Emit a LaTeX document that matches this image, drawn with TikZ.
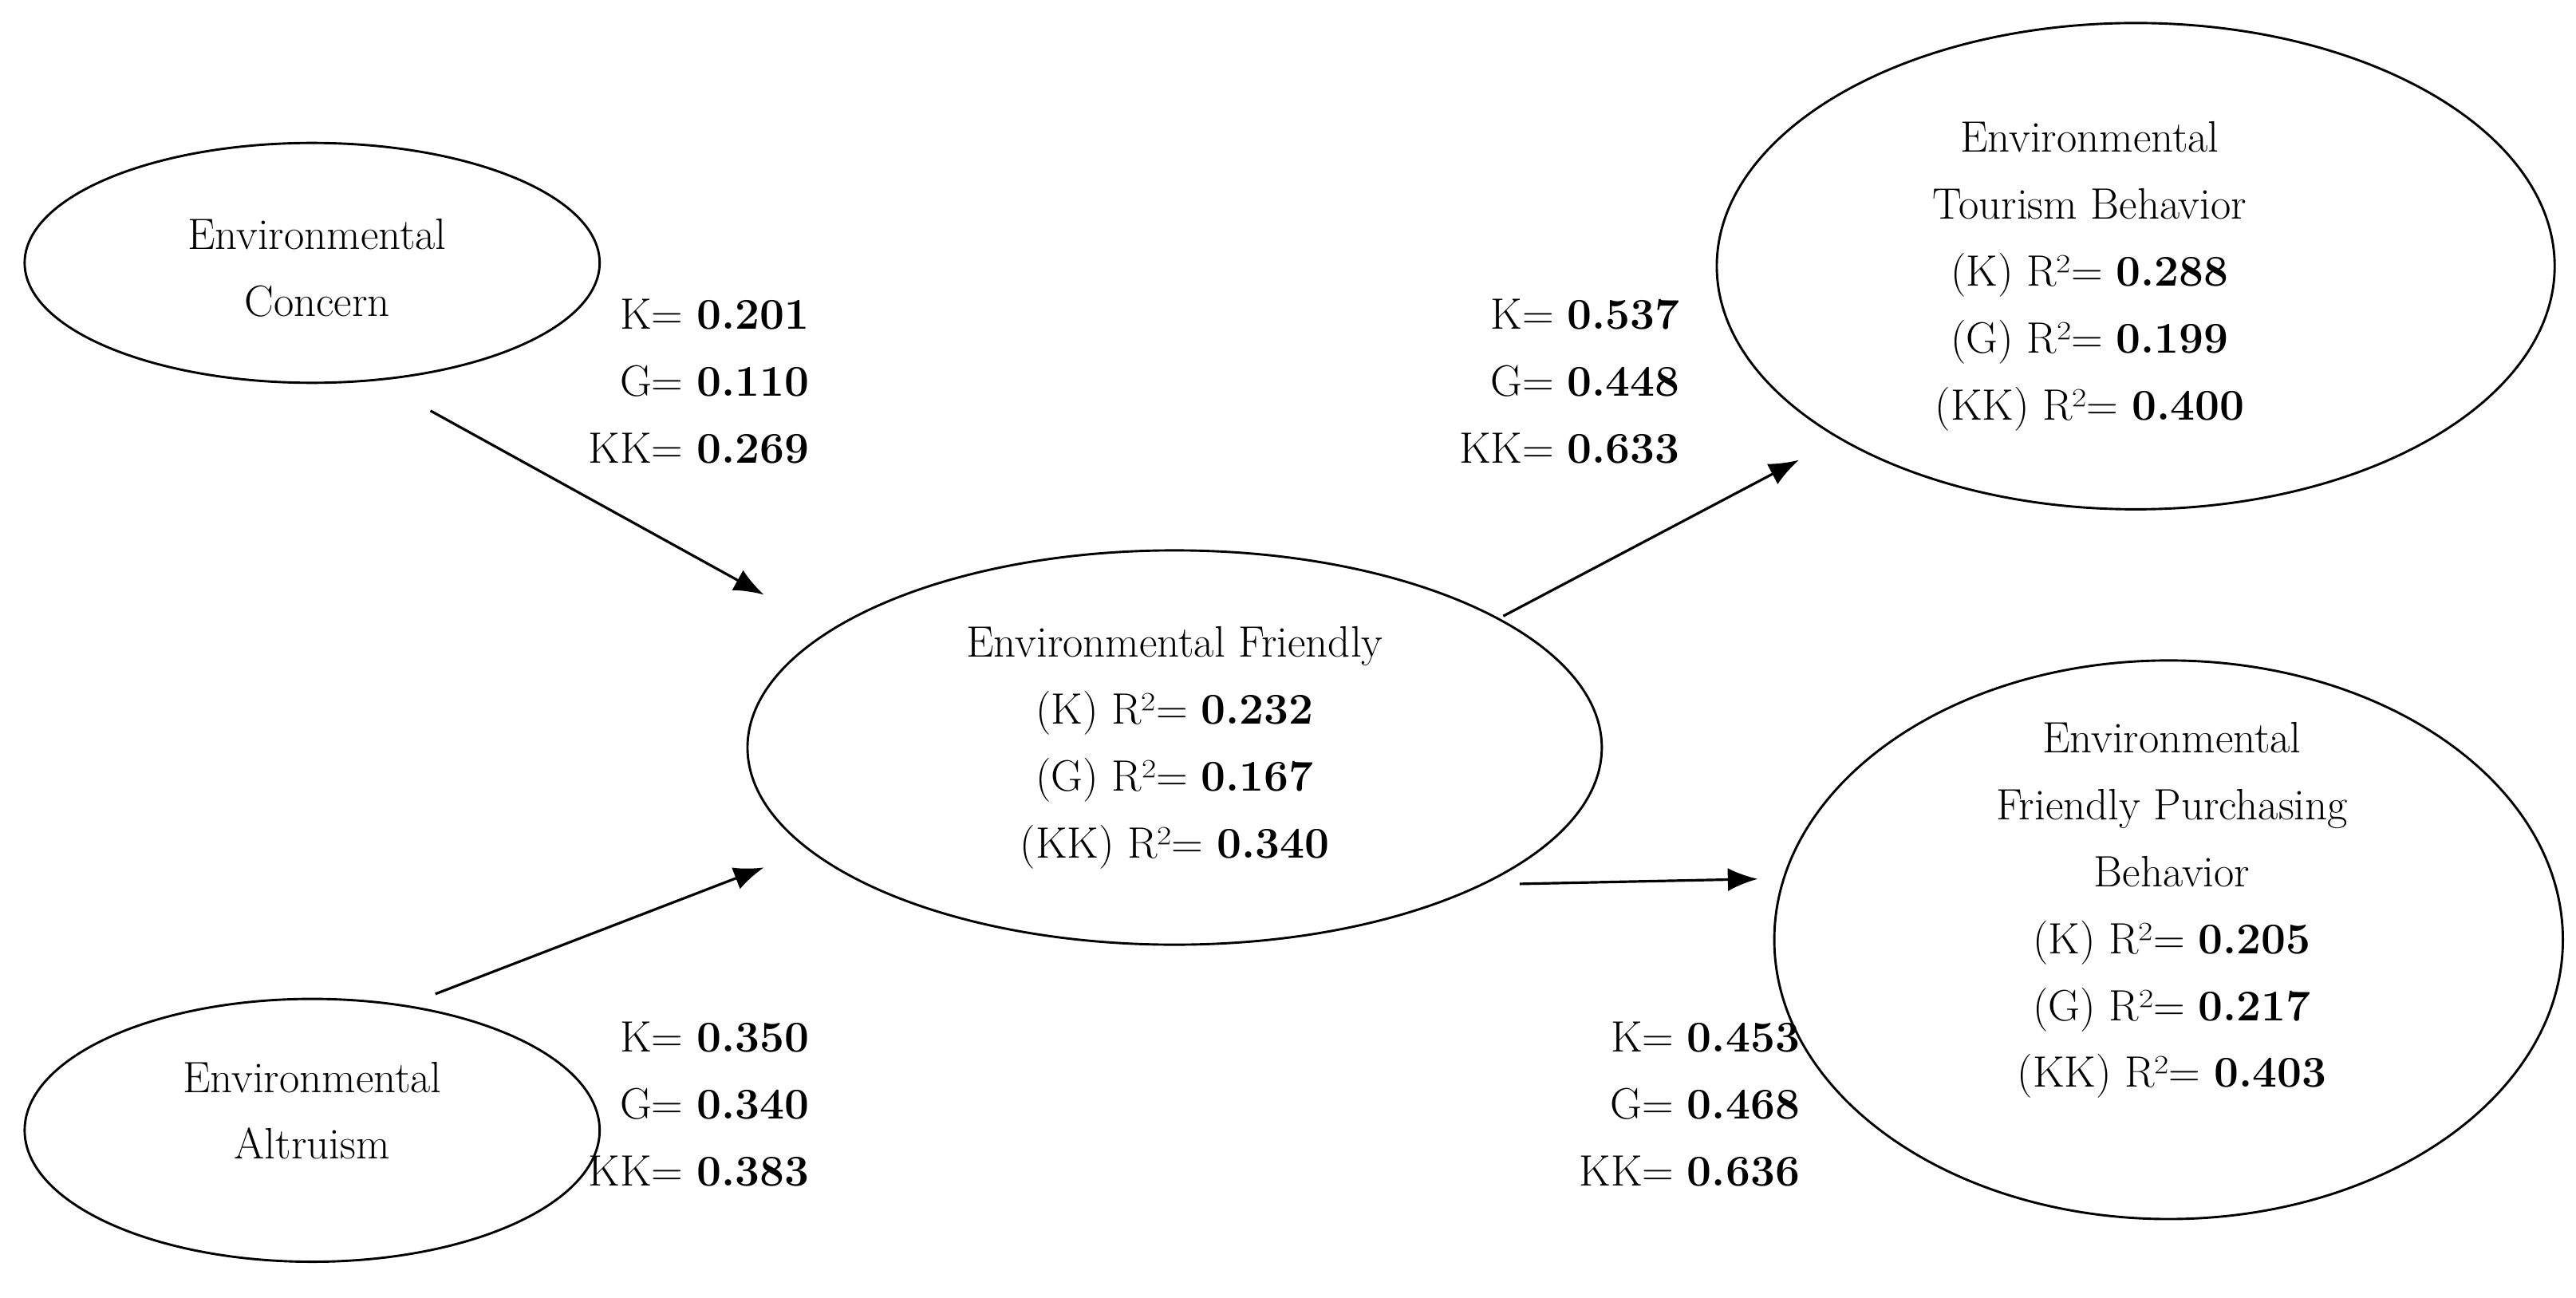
\documentclass[tikz,border=0pt]{standalone}
\usetikzlibrary{arrows.meta}
\begin{document}
\begin{tikzpicture}[x=0.05cm,y=-0.05cm,
  txt/.style={align=center,font=\fontsize{38}{58}\selectfont},
  lab/.style={align=right,font=\fontsize{38}{58}\selectfont},
  arr/.style={line width=2.2pt,-{Latex[length=26pt,width=20pt]}}]
\useasboundingbox (0,0) rectangle (1568,790);
\draw[line width=2pt] (190,160) ellipse [x radius=175, y radius=73];
\draw[line width=2pt] (190,688) ellipse [x radius=175, y radius=80];
\draw[line width=2pt] (715,455) ellipse [x radius=260, y radius=120];
\draw[line width=2pt] (1300,162) ellipse [x radius=255, y radius=148];
\draw[line width=2pt] (1320,572) ellipse [x radius=240, y radius=170];
\node[txt] (ec) at (193,163) {Environmental\\Concern};
\node[txt] (ea) at (190,676) {Environmental\\Altruism};
\node[txt] (ef) at (715,455) {Environmental Friendly\\(K) R²= \textbf{0.232}\\(G) R²= \textbf{0.167}\\(KK) R²= \textbf{0.340}};
\node[txt] (et) at (1272,168) {Environmental\\Tourism Behavior\\(K) R²= \textbf{0.288}\\(G) R²= \textbf{0.199}\\(KK) R²= \textbf{0.400}};
\node[txt] (ep) at (1322,554) {Environmental\\Friendly Purchasing\\Behavior\\(K) R²= \textbf{0.205}\\(G) R²= \textbf{0.217}\\(KK) R²= \textbf{0.403}};
\node[lab,anchor=east] (l1) at (495,232) {K= \textbf{0.201}\\G= \textbf{0.110}\\KK= \textbf{0.269}};
\node[lab,anchor=east] (l2) at (495,672) {K= \textbf{0.350}\\G= \textbf{0.340}\\KK= \textbf{0.383}};
\node[lab,anchor=east] (l3) at (1025,232) {K= \textbf{0.537}\\G= \textbf{0.448}\\KK= \textbf{0.633}};
\node[lab,anchor=east] (l4) at (1098,672) {K= \textbf{0.453}\\G= \textbf{0.468}\\KK= \textbf{0.636}};
\coordinate (a1) at (262,250); \coordinate (b1) at (465,362);
\coordinate (a2) at (265,605); \coordinate (b2) at (465,528);
\coordinate (a3) at (915,375); \coordinate (b3) at (1095,280);
\coordinate (a4) at (925,538); \coordinate (b4) at (1070,535);
\draw[arr] (a1) -- (b1);
\draw[arr] (a2) -- (b2);
\draw[arr] (a3) -- (b3);
\draw[arr] (a4) -- (b4);
\end{tikzpicture}
\end{document}
